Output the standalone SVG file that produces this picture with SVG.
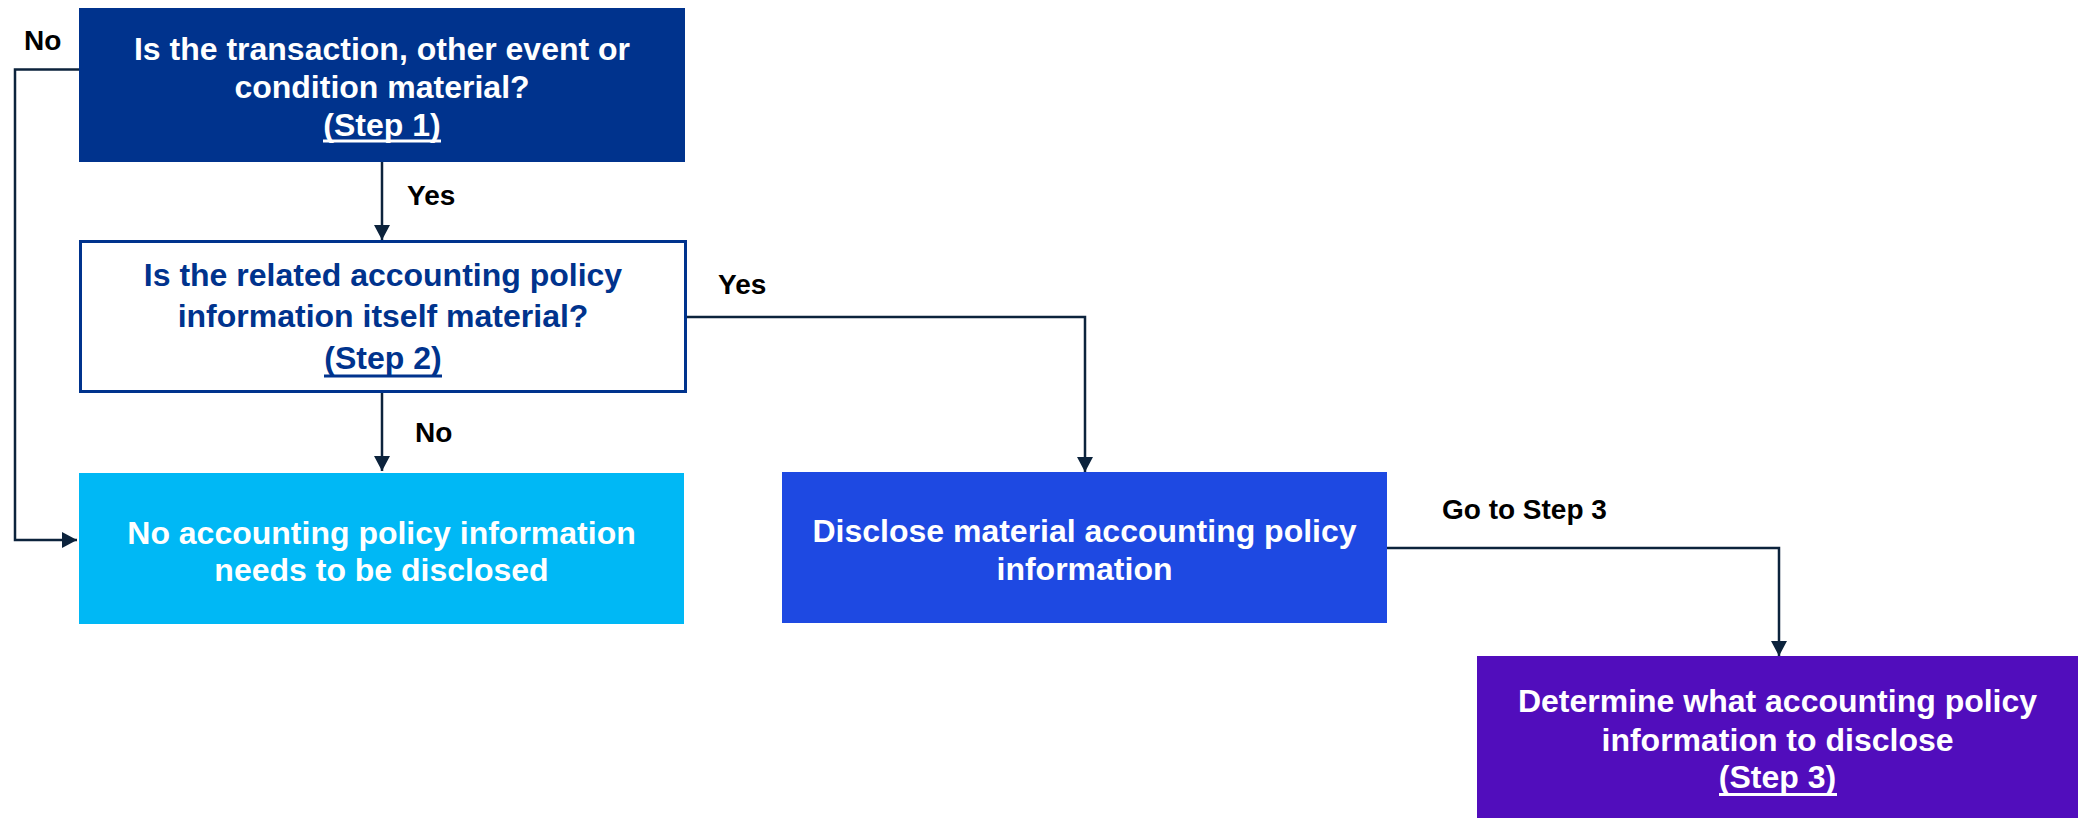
<svg xmlns="http://www.w3.org/2000/svg" width="2078" height="818" viewBox="0 0 2078 818">
<defs>
<marker id="arr" viewBox="0 0 15 16" refX="15" refY="8" markerWidth="15" markerHeight="16" markerUnits="userSpaceOnUse" orient="auto">
<path d="M0,0 L15,8 L0,16 Z" fill="#0C233C"/>
</marker>
<style>
.t{font-family:"Liberation Sans",Arial,sans-serif;font-weight:bold;font-size:32px;text-anchor:middle}
.w{fill:#FFFFFF}
.b{fill:#00338D}
.lbl{font-family:"Liberation Sans",Arial,sans-serif;font-weight:bold;font-size:28px;fill:#000000}
.c{fill:none;stroke:#0C233C;stroke-width:2.5}
</style>
</defs>
<rect width="2078" height="818" fill="#FFFFFF"/>
<g id="connectors">
<path class="c" d="M79,69.5 H15 V540 H77" marker-end="url(#arr)"/>
<path class="c" d="M382,162 V240" marker-end="url(#arr)"/>
<path class="c" d="M382,393 V471" marker-end="url(#arr)"/>
<path class="c" d="M687,317 H1085 V472" marker-end="url(#arr)"/>
<path class="c" d="M1387,548 H1779 V656" marker-end="url(#arr)"/>
<text class="lbl" x="407" y="205">Yes</text>
<text class="lbl" x="24" y="50">No</text>
<text class="lbl" x="718" y="294">Yes</text>
<text class="lbl" x="415" y="442">No</text>
<text class="lbl" x="1442" y="519">Go to Step 3</text>
</g>
<g id="step1">
<rect x="79" y="8" width="606" height="154" fill="#00338D"/>
<text class="t w" x="382" y="60">Is the transaction, other event or</text>
<text class="t w" x="382" y="98">condition material?</text>
<text class="t w" x="382" y="135.5">(Step 1)</text>
<rect x="323" y="139.5" width="118" height="3" fill="#FFFFFF"/>
</g>
<g id="step2">
<rect x="80.5" y="241.5" width="605" height="150" fill="#FFFFFF" stroke="#00338D" stroke-width="3"/>
<text class="t b" x="383" y="286">Is the related accounting policy</text>
<text class="t b" x="383" y="327">information itself material?</text>
<text class="t b" x="383" y="369">(Step 2)</text>
<rect x="324" y="374.5" width="118" height="3" fill="#00338D"/>
</g>
<g id="no-disclosure">
<rect x="79" y="473" width="605" height="151" fill="#00B8F5"/>
<text class="t w" x="381.5" y="543.5">No accounting policy information</text>
<text class="t w" x="381.5" y="581">needs to be disclosed</text>
</g>
<g id="disclose">
<rect x="782" y="472" width="605" height="151" fill="#1E49E2"/>
<text class="t w" x="1084.5" y="542">Disclose material accounting policy</text>
<text class="t w" x="1084.5" y="580">information</text>
</g>
<g id="step3">
<rect x="1477" y="656" width="601" height="162" fill="#510DBC"/>
<text class="t w" x="1777.5" y="712">Determine what accounting policy</text>
<text class="t w" x="1777.5" y="751">information to disclose</text>
<text class="t w" x="1777.5" y="788">(Step 3)</text>
<rect x="1719" y="793" width="118" height="3" fill="#FFFFFF"/>
</g>
</svg>
